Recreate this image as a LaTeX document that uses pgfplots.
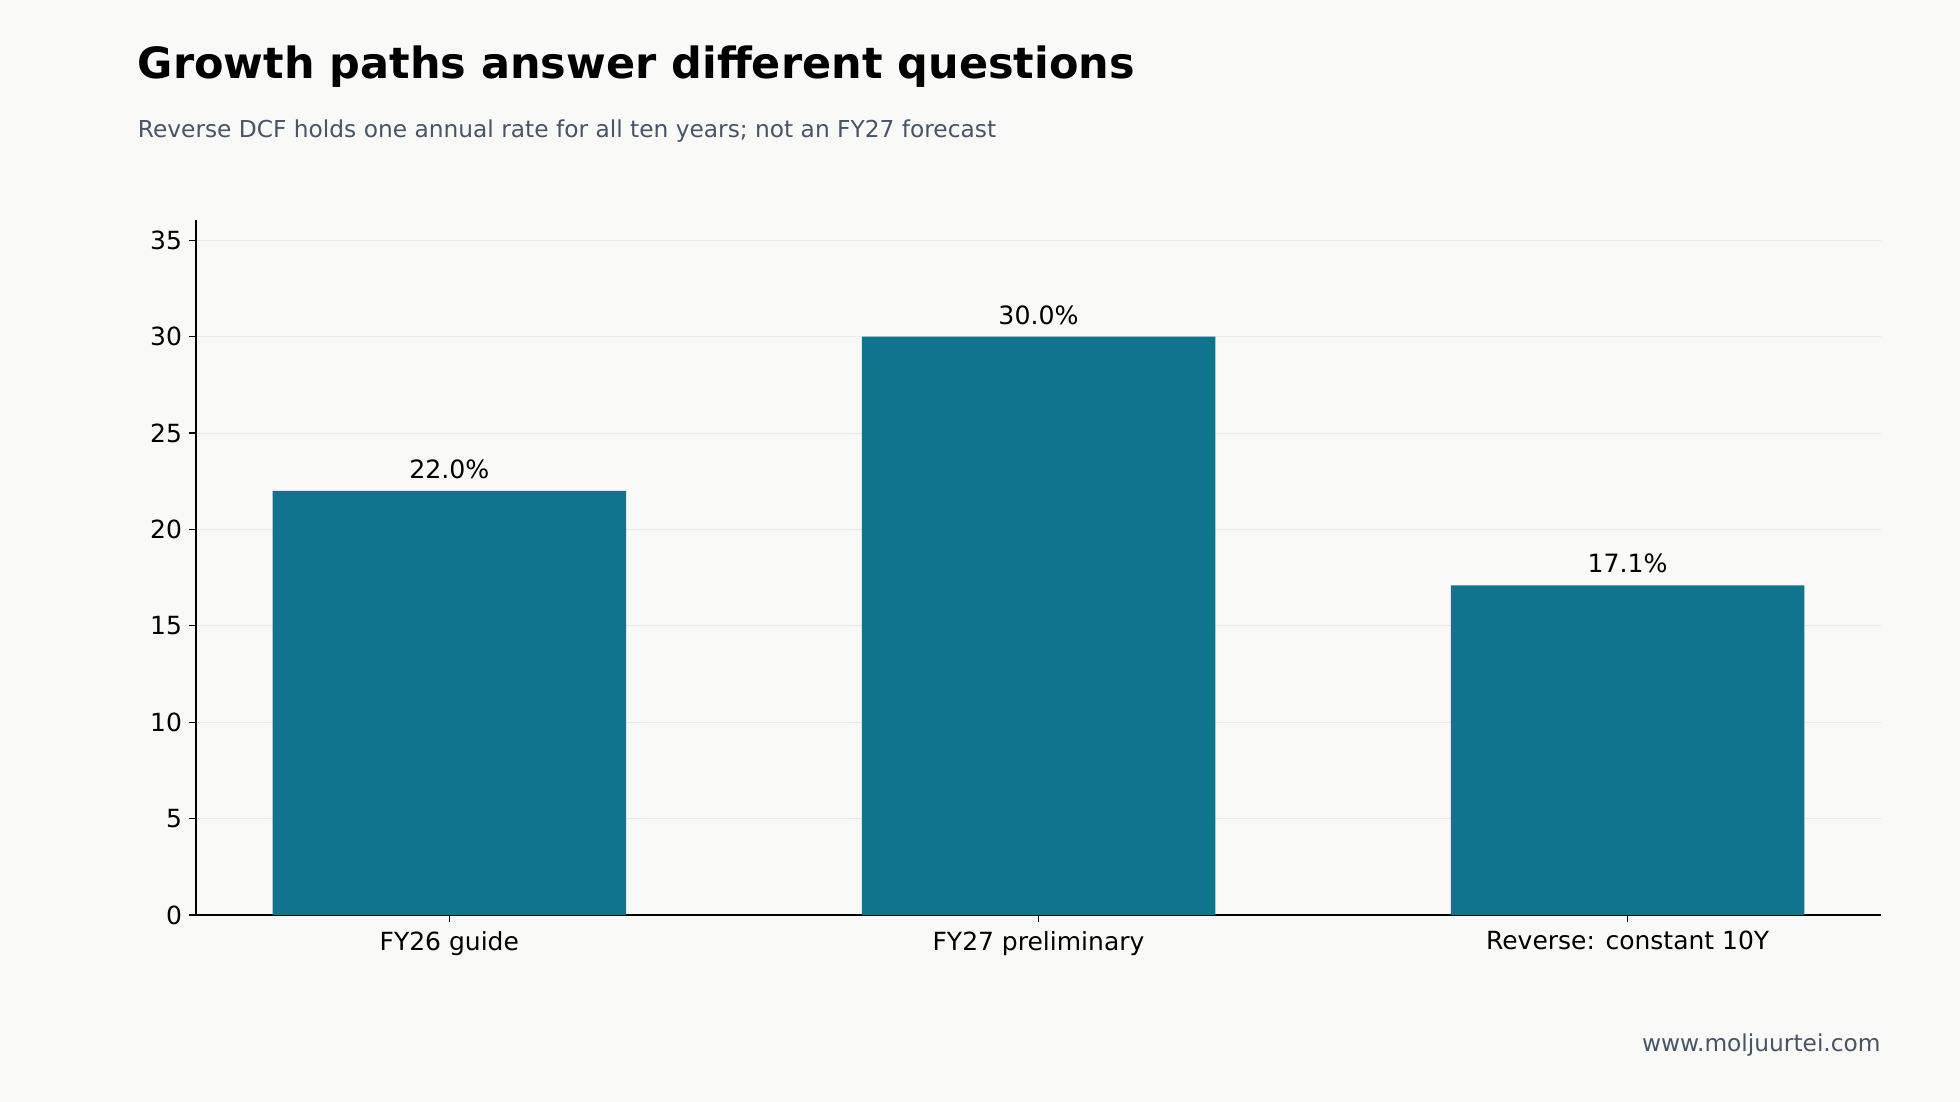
\documentclass[border=0pt]{standalone}
\usepackage{fontspec}
\setmainfont{DejaVu Sans}
\usepackage{pgfplots}
\pgfplotsset{compat=1.18}
\definecolor{bg}{RGB}{249,249,247}
\definecolor{bar}{RGB}{16,116,143}
\definecolor{slate}{RGB}{71,85,105}
\definecolor{gridc}{RGB}{234,234,234}
\begin{document}
\begin{tikzpicture}
  % page background, 1px = 0.5pt
  \fill[bg] (0pt,0pt) rectangle (980pt,551pt);
  \node[anchor=base west,inner sep=0pt,font=\bfseries\fontsize{21.5}{26}\selectfont] at (68.75pt,511.5pt) {Growth paths answer different questions};
  \node[anchor=base west,inner sep=0pt,text=slate,font=\fontsize{11.65}{13}\selectfont] at (68.75pt,482.25pt) {Reverse DCF holds one annual rate for all ten years; not an FY27 forecast};
  \node[anchor=base east,inner sep=0pt,text=slate,font=\fontsize{11.65}{13}\selectfont] at (940.5pt,25pt) {www.moljuurtei.com};
  \begin{axis}[
      at={(98pt,93.5pt)}, anchor=south west,
      scale only axis,
      width=842.5pt, height=347.5pt,
      xmin=-0.43, xmax=2.43,
      ymin=0, ymax=36.05,
      axis x line*=bottom, axis y line*=left,
      axis line style={black,line width=0.6pt},
      xtick={0,1,2},
      xticklabels={FY26 guide,FY27 preliminary,Reverse: constant 10Y},
      ytick={0,5,...,35},
      tick style={black,line width=0.6pt},
      tick align=outside,
      major tick length=3.5pt,
      ymajorgrids,
      grid style={gridc,line width=0.5pt},
      tick label style={font=\fontsize{12.5}{14}\selectfont},
      /pgf/number format/assume math mode=true,
      xticklabel style={yshift=-1pt},
      ybar, bar width=0.6,
      nodes near coords={\pgfmathprintnumber[fixed,fixed zerofill,precision=1]{\pgfplotspointmeta}\%},
      nodes near coords style={font=\fontsize{12.6}{14}\selectfont,black,yshift=2.5pt},
    ]
    \addplot[fill=bar,draw=none] coordinates {(0,22.0) (1,30.0) (2,17.1)};
  \end{axis}
\end{tikzpicture}
\end{document}
